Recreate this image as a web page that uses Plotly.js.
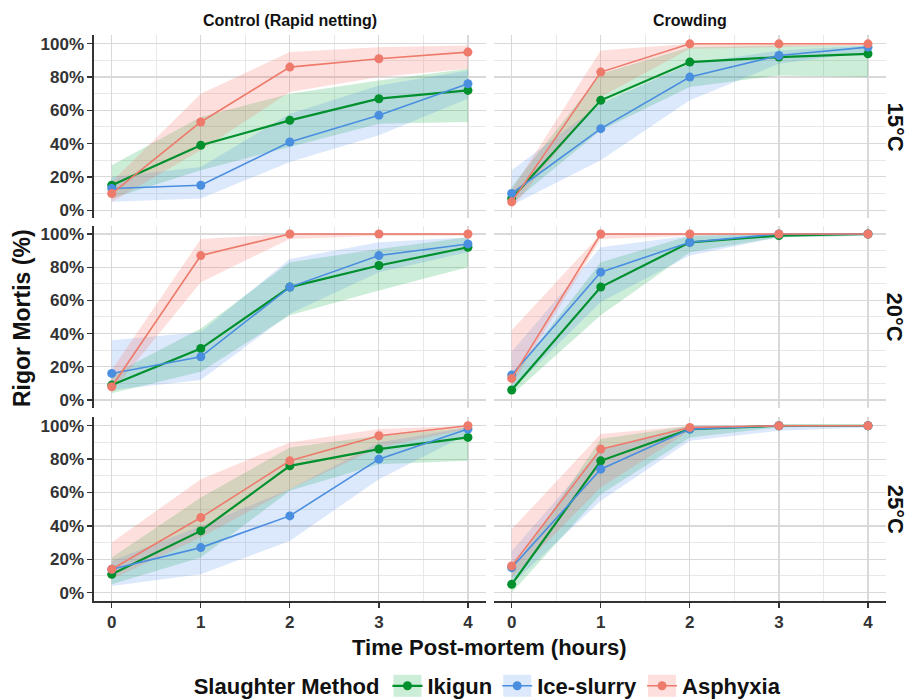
<!DOCTYPE html>
<html>
<head>
<meta charset="utf-8">
<script src="https://cdn.plot.ly/plotly-3.0.1.min.js"></script>
<style>html,body{margin:0;padding:0;background:#fff}#chart{width:910px;height:700px}</style>
</head>
<body>
<div id="chart"></div>
<script>
// ---------- data ----------
const hours = [0, 1, 2, 3, 4];
const methods = ["Ikigun", "Ice-slurry", "Asphyxia"];
const treatments = ["Control (Rapid netting)", "Crowding"];
const temperatures = ["15°C", "20°C", "25°C"];
const yTickVals = [0, 20, 40, 60, 80, 100];

// Control (Rapid netting), 15°C
const ctrl15_ikigun_mean = [15, 39, 54, 67, 72];
const ctrl15_ikigun_lo   = [7, 24, 38, 52, 53];
const ctrl15_ikigun_hi   = [27, 56, 70, 78, 85];
const ctrl15_ice_mean    = [13, 15, 41, 57, 76];
const ctrl15_ice_lo      = [5, 7, 29, 45, 67];
const ctrl15_ice_hi      = [20, 26, 58, 75, 84];
const ctrl15_asph_mean   = [10, 53, 86, 91, 95];
const ctrl15_asph_lo     = [5, 36, 71, 80, 85];
const ctrl15_asph_hi     = [17, 70, 95, 98, 99];
// Crowding, 15°C
const crowd15_ikigun_mean = [7, 66, 89, 92, 94];
const crowd15_ikigun_lo   = [4, 48, 74, 81, 80];
const crowd15_ikigun_hi   = [14, 82, 98, 99, 99];
const crowd15_ice_mean    = [10, 49, 80, 93, 98];
const crowd15_ice_lo      = [3, 30, 66, 88, 95];
const crowd15_ice_hi      = [24, 64, 88, 96, 99];
const crowd15_asph_mean   = [5, 83, 100, 100, 100];
const crowd15_asph_lo     = [1, 68, 97, 98, 99];
const crowd15_asph_hi     = [12, 96, 100, 100, 100];
// Control (Rapid netting), 20°C
const ctrl20_ikigun_mean = [9, 31, 68, 81, 92];
const ctrl20_ikigun_lo   = [4, 17, 51, 66, 80];
const ctrl20_ikigun_hi   = [15, 43, 83, 91, 98];
const ctrl20_ice_mean    = [16, 26, 68, 87, 94];
const ctrl20_ice_lo      = [6, 12, 52, 77, 89];
const ctrl20_ice_hi      = [36, 41, 85, 95, 98];
const ctrl20_asph_mean   = [8, 87, 100, 100, 100];
const ctrl20_asph_lo     = [5, 71, 97, 99, 99];
const ctrl20_asph_hi     = [18, 97, 100, 100, 100];
// Crowding, 20°C
const crowd20_ikigun_mean = [6, 68, 95, 99, 100];
const crowd20_ikigun_lo   = [3, 51, 89, 98, 99];
const crowd20_ikigun_hi   = [14, 83, 99, 100, 100];
const crowd20_ice_mean    = [15, 77, 95, 100, 100];
const crowd20_ice_lo      = [6, 59, 87, 98, 99];
const crowd20_ice_hi      = [29, 92, 99, 100, 100];
const crowd20_asph_mean   = [13, 100, 100, 100, 100];
const crowd20_asph_lo     = [9, 97, 99, 100, 100];
const crowd20_asph_hi     = [42, 100, 100, 100, 100];
// Control (Rapid netting), 25°C
const ctrl25_ikigun_mean = [11, 37, 76, 86, 93];
const ctrl25_ikigun_lo   = [5, 21, 61, 77, 79];
const ctrl25_ikigun_hi   = [21, 57, 87, 94, 99];
const ctrl25_ice_mean    = [14, 27, 46, 80, 98];
const ctrl25_ice_lo      = [4, 11, 31, 68, 95];
const ctrl25_ice_hi      = [19, 40, 62, 90, 99];
const ctrl25_asph_mean   = [14, 45, 79, 94, 100];
const ctrl25_asph_lo     = [8, 33, 62, 87, 98];
const ctrl25_asph_hi     = [30, 68, 90, 98, 100];
// Crowding, 25°C
const crowd25_ikigun_mean = [5, 79, 98, 100, 100];
const crowd25_ikigun_lo   = [0, 59, 93, 99, 100];
const crowd25_ikigun_hi   = [13, 92, 100, 100, 100];
const crowd25_ice_mean    = [15, 74, 98, 100, 100];
const crowd25_ice_lo      = [5, 55, 91, 97, 99];
const crowd25_ice_hi      = [25, 86, 100, 100, 100];
const crowd25_asph_mean   = [16, 86, 99, 100, 100];
const crowd25_asph_lo     = [9, 63, 97, 100, 100];
const crowd25_asph_hi     = [38, 95, 100, 100, 100];

// ---------- assembly ----------
const panels = [
  [ [ctrl15_ikigun_mean, ctrl15_ikigun_lo, ctrl15_ikigun_hi], [ctrl15_ice_mean, ctrl15_ice_lo, ctrl15_ice_hi], [ctrl15_asph_mean, ctrl15_asph_lo, ctrl15_asph_hi] ],
  [ [crowd15_ikigun_mean, crowd15_ikigun_lo, crowd15_ikigun_hi], [crowd15_ice_mean, crowd15_ice_lo, crowd15_ice_hi], [crowd15_asph_mean, crowd15_asph_lo, crowd15_asph_hi] ],
  [ [ctrl20_ikigun_mean, ctrl20_ikigun_lo, ctrl20_ikigun_hi], [ctrl20_ice_mean, ctrl20_ice_lo, ctrl20_ice_hi], [ctrl20_asph_mean, ctrl20_asph_lo, ctrl20_asph_hi] ],
  [ [crowd20_ikigun_mean, crowd20_ikigun_lo, crowd20_ikigun_hi], [crowd20_ice_mean, crowd20_ice_lo, crowd20_ice_hi], [crowd20_asph_mean, crowd20_asph_lo, crowd20_asph_hi] ],
  [ [ctrl25_ikigun_mean, ctrl25_ikigun_lo, ctrl25_ikigun_hi], [ctrl25_ice_mean, ctrl25_ice_lo, ctrl25_ice_hi], [ctrl25_asph_mean, ctrl25_asph_lo, ctrl25_asph_hi] ],
  [ [crowd25_ikigun_mean, crowd25_ikigun_lo, crowd25_ikigun_hi], [crowd25_ice_mean, crowd25_ice_lo, crowd25_ice_hi], [crowd25_asph_mean, crowd25_asph_lo, crowd25_asph_hi] ]
];

const lineColors = ["#00902E", "#4A8EE0", "#EE7A6B"];
const fillColors = ["rgba(0,170,60,0.20)", "rgba(80,140,235,0.20)", "rgba(245,115,100,0.22)"];
const lineWidths = [2.2, 1.6, 1.6];

const FONT = "Liberation Sans, Arial, Helvetica, sans-serif";
const xDomains = [[0.1032, 0.5338], [0.5427, 0.9734]];
const yDomains = [[0.6879, 0.9493], [0.4167, 0.6776], [0.1414, 0.4037]];

const traces = [];
const layout = {
  width: 910, height: 700,
  margin: {l: 0, r: 0, t: 0, b: 0, autoexpand: false},
  paper_bgcolor: "#ffffff",
  plot_bgcolor: "#ffffff",
  font: {family: FONT, color: "#222"},
  showlegend: true,
  legend: {
    orientation: "h", x: 0.537, xanchor: "center", y: 0.02, yanchor: "middle",
    font: {family: FONT, size: 22, weight: "bold", color: "#111"},
    title: {text: "Slaughter Method", side: "left", font: {family: FONT, size: 22, weight: "bold", color: "#111"}},
    itemwidth: 30, tracegroupgap: 0, bgcolor: "rgba(0,0,0,0)"
  },
  annotations: [],
  shapes: []
};

for (let r = 0; r < 3; r++) {
  for (let c = 0; c < 2; c++) {
    const idx = r * 2 + c;
    const n = idx + 1;
    const xa = n === 1 ? "x" : "x" + n;
    const ya = n === 1 ? "y" : "y" + n;
    const bottom = r === 2, left = c === 0;
    layout["xaxis" + (n === 1 ? "" : n)] = {
      domain: xDomains[c], anchor: ya, range: [-0.2, 4.2],
      tickmode: "array", tickvals: hours, ticktext: hours.map(String),
      showgrid: true, gridcolor: "#D9D9D9", gridwidth: 1.2,
      minor: {dtick: 0.5, tick0: 0, showgrid: true, gridcolor: "#E6E6E6", gridwidth: 0.9},
      zeroline: false,
      showticklabels: bottom, ticks: bottom ? "outside" : "", ticklen: 5, tickwidth: 1.3, tickcolor: "#333",
      ticklabelstandoff: 0,
      showline: bottom, linecolor: "#333", linewidth: 1.5,
      tickfont: {family: FONT, size: 17, weight: "bold", color: "#333"},
      fixedrange: true
    };
    layout["yaxis" + (n === 1 ? "" : n)] = {
      domain: yDomains[r], anchor: xa, range: [-5, 105],
      tickmode: "array", tickvals: yTickVals, ticktext: yTickVals.map(v => v + "%"),
      showgrid: true, gridcolor: "#D9D9D9", gridwidth: 1.2,
      minor: {dtick: 10, tick0: 0, showgrid: true, gridcolor: "#E6E6E6", gridwidth: 0.9},
      zeroline: false,
      showticklabels: left, ticks: left ? "outside" : "", ticklen: 5, tickwidth: 1.3, tickcolor: "#333",
      showline: left, linecolor: "#333", linewidth: 1.5,
      tickfont: {family: FONT, size: 17, weight: "bold", color: "#333"},
      fixedrange: true
    };
    const series = panels[idx];
    // ribbons
    for (let m = 0; m < 3; m++) {
      const [mean, lo, hi] = series[m];
      traces.push({
        type: "scatter", mode: "lines", xaxis: xa, yaxis: ya,
        x: hours.concat(hours.slice().reverse()),
        y: hi.concat(lo.slice().reverse()),
        fill: "toself", fillcolor: fillColors[m], line: {width: 0, color: "rgba(0,0,0,0)"},
        hoverinfo: "skip", showlegend: false, legendgroup: methods[m]
      });
    }
    // lines + points
    for (let m = 0; m < 3; m++) {
      const [mean] = series[m];
      traces.push({
        type: "scatter", mode: "lines+markers", xaxis: xa, yaxis: ya,
        x: hours, y: mean, name: methods[m], legendgroup: methods[m],
        showlegend: idx === 0,
        line: {color: lineColors[m], width: lineWidths[m]},
        marker: {color: lineColors[m], size: 9}
      });
    }
  }
}

// strip labels
layout.annotations.push(
  {text: treatments[0], xref: "paper", yref: "paper", x: 0.3185, y: 0.9714, xanchor: "center", yanchor: "middle", showarrow: false, font: {family: FONT, size: 16, weight: "bold", color: "#111"}},
  {text: treatments[1], xref: "paper", yref: "paper", x: 0.7581, y: 0.9714, xanchor: "center", yanchor: "middle", showarrow: false, font: {family: FONT, size: 16, weight: "bold", color: "#111"}}
);
const rowCenters = [0.8186, 0.5471, 0.2726];
for (let r = 0; r < 3; r++) {
  layout.annotations.push({text: temperatures[r], xref: "paper", yref: "paper", x: 0.984, y: rowCenters[r], xanchor: "center", yanchor: "middle", textangle: 90, showarrow: false, font: {family: FONT, size: 22, weight: "bold", color: "#111"}});
}
// axis titles
layout.annotations.push(
  {text: "Time Post-mortem (hours)", xref: "paper", yref: "paper", x: 0.5383, y: 0.0757, xanchor: "center", yanchor: "middle", showarrow: false, font: {family: FONT, size: 22, weight: "bold", color: "#111"}},
  {text: "Rigor Mortis (%)", xref: "paper", yref: "paper", x: 0.0242, y: 0.5457, xanchor: "center", yanchor: "middle", textangle: -90, showarrow: false, font: {family: FONT, size: 23, weight: "bold", color: "#111"}}
);

// light ribbon-coloured squares behind the legend keys, as in the reference
function placeKeySquares(gd) {
  const box = gd.getBoundingClientRect();
  const items = gd.querySelectorAll(".legend .traces");
  const keyShapes = [];
  items.forEach(function (item, i) {
    const pt = item.querySelector(".legendpoints path") || item.querySelector(".legendlines path");
    if (!pt) return;
    const b = pt.getBoundingClientRect();
    const cx = (b.left + b.right) / 2 - box.left;
    const cy = (b.top + b.bottom) / 2 - box.top;
    keyShapes.push({
      type: "rect", xref: "paper", yref: "paper", layer: "above",
      x0: (cx - 14) / 910, x1: (cx + 14) / 910,
      y0: 1 - (cy + 11) / 700, y1: 1 - (cy - 11) / 700,
      fillcolor: fillColors[i % 3], line: {width: 0}
    });
  });
  return Plotly.relayout(gd, {shapes: keyShapes});
}

Plotly.newPlot("chart", traces, layout, {displayModeBar: false, staticPlot: true})
  .then(placeKeySquares)
  .then(placeKeySquares);
</script>
</body>
</html>
